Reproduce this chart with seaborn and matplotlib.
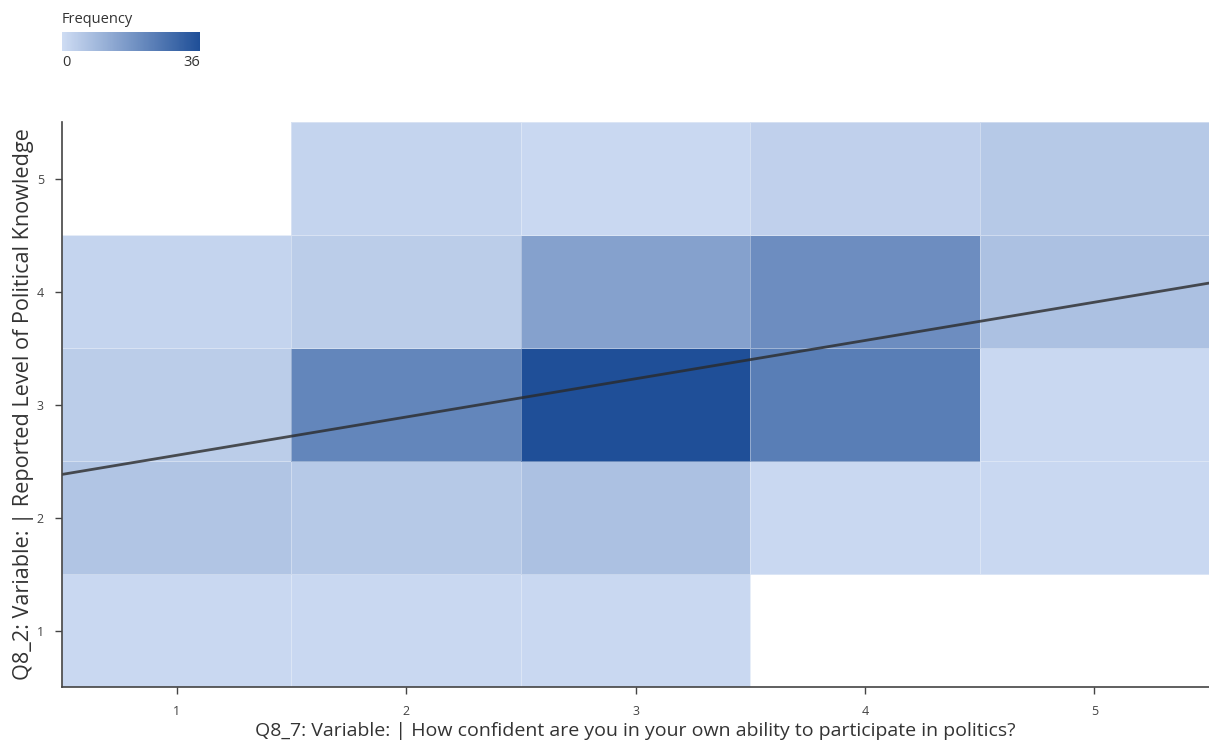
import numpy as np
import pandas as pd
import matplotlib
matplotlib.use("Agg")
import matplotlib.pyplot as plt
from matplotlib.colors import LinearSegmentedColormap, Normalize
from matplotlib.cm import ScalarMappable
import seaborn as sns

# Response levels on both survey items
confidence_levels = [1, 2, 3, 4, 5]      # Q8_7
knowledge_levels = [1, 2, 3, 4, 5]       # Q8_2

# Respondent counts per knowledge level (rows), by confidence level (columns)
counts_k1 = [1, 1, 1, 0, 0]
counts_k2 = [6, 5, 7, 1, 1]
counts_k3 = [4, 22, 36, 24, 1]
counts_k4 = [2, 4, 15, 20, 7]
counts_k5 = [0, 2, 1, 3, 5]

freq_min, freq_max = 0, 36

x_title = "Q8_7: Variable: | How confident are you in your own ability to participate in politics?"
y_title = "Q8_2: Variable: | Reported Level of Political Knowledge"

count_rows = [counts_k1, counts_k2, counts_k3, counts_k4, counts_k5]
records = []
for k, row in zip(knowledge_levels, count_rows):
    for c, n in zip(confidence_levels, row):
        records.append({"confidence": c, "knowledge": k, "n": n})
grid = pd.DataFrame(records)
# one row per respondent, for the regression fit
respondents = grid.loc[grid.index.repeat(grid["n"])].reset_index(drop=True)

sns.set_theme(style="white")
plt.rcParams["font.family"] = ["Open Sans", "DejaVu Sans"]

cmap = LinearSegmentedColormap.from_list("freq", ["#cedcf3", "#1f4f98"])

fig = plt.figure(figsize=(12.09, 7.4), dpi=100)
ax = fig.add_axes([0.0513, 0.0716, 0.9487, 0.7634])

sns.histplot(data=grid, x="confidence", y="knowledge", weights="n",
             discrete=(True, True), cmap=cmap, vmin=freq_min, vmax=freq_max,
             edgecolor=(1, 1, 1, 0.35), linewidth=0.6, ax=ax, cbar=False)

ax.set_xlim(0.5, 5.5)
ax.set_ylim(0.5, 5.5)

sns.regplot(data=respondents, x="confidence", y="knowledge", scatter=False,
            ci=None, truncate=False, ax=ax,
            line_kws={"color": "#2a2a2a", "alpha": 0.8, "linewidth": 2})
ax.set_xlim(0.5, 5.5)
ax.set_ylim(0.5, 5.5)

ax.set_xticks(confidence_levels)
ax.set_yticks(knowledge_levels)
ax.tick_params(axis="both", which="both", direction="out", length=5, width=1,
               color="#444444", labelsize=9, labelcolor="#444444", pad=8,
               bottom=True, left=True)
for side in ("top", "right"):
    ax.spines[side].set_visible(False)
for side in ("left", "bottom"):
    ax.spines[side].set_color("#444444")
    ax.spines[side].set_linewidth(1.2)

ax.set_xlabel(x_title, fontsize=14, color="#333333", labelpad=3)
ax.set_ylabel(y_title, fontsize=15.6, color="#333333", labelpad=2)

# Colour legend
cax = fig.add_axes([0.0513, 0.931, 0.114, 0.0257])
sm = ScalarMappable(norm=Normalize(freq_min, freq_max), cmap=cmap)
cb = fig.colorbar(sm, cax=cax, orientation="horizontal")
cb.outline.set_visible(False)
cax.set_xticks([])
fig.text(0.0513, 0.964, "Frequency", fontsize=10.5, color="#333333",
         ha="left", va="bottom")
fig.text(0.0513, 0.925, str(freq_min), fontsize=10.5, color="#333333",
         ha="left", va="top")
fig.text(0.1653, 0.925, str(freq_max), fontsize=10.5, color="#333333",
         ha="right", va="top")

fig.savefig("out.png", dpi=100)
